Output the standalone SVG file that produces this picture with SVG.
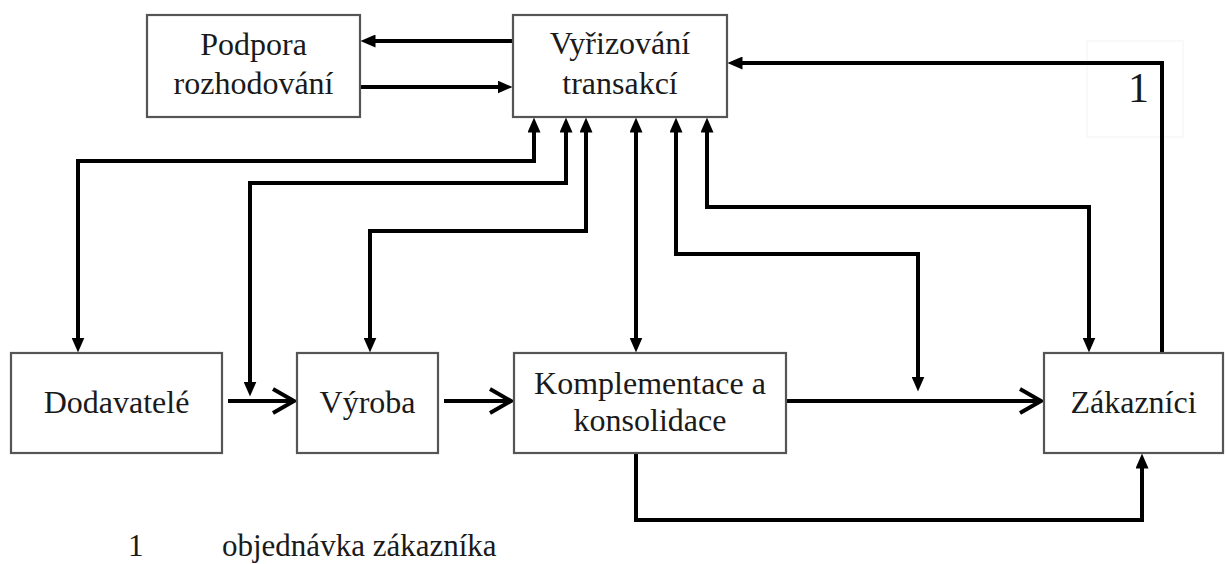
<svg xmlns="http://www.w3.org/2000/svg" width="1226" height="564" viewBox="0 0 1226 564">
  <style>
    .box { fill: #ffffff; stroke: #555555; stroke-width: 2.2; }
    .lbl { font-family: "Liberation Serif", "Times New Roman", serif; font-size: 32px; fill: #1a1a1a; text-anchor: middle; }
    .note { font-family: "Liberation Serif", "Times New Roman", serif; font-size: 31px; fill: #1a1a1a; }
    .wire { fill: none; stroke: #000000; stroke-width: 4; stroke-linejoin: miter; stroke-linecap: butt; }
  </style>
  <defs>
    <!-- solid triangular head; base sits on the path end, tip points onward -->
    <marker id="tri" viewBox="0 0 15 13" markerWidth="15" markerHeight="13" refX="0.5" refY="6.5" orient="auto-start-reverse" markerUnits="userSpaceOnUse">
      <path d="M0,0 L15,6.5 L0,13 Z" fill="#000000"/>
    </marker>
    <!-- open V head for the main material flow -->
    <marker id="vee" viewBox="-26 -15 30 30" markerWidth="30" markerHeight="30" refX="0" refY="0" orient="auto" markerUnits="userSpaceOnUse">
      <polyline points="-21,-12 0,0 -21,12" fill="none" stroke="#000000" stroke-width="4"/>
    </marker>
  </defs>

  <!-- light frame around the flow number -->
  <rect x="1087" y="41" width="96" height="96" fill="none" stroke="#f3f3f3" stroke-width="1"/>

  <g id="connectors">
    <!-- between decision support and transaction processing -->
    <path class="wire" d="M513,41 H375" marker-end="url(#tri)"/>
    <path class="wire" d="M360,87 H498" marker-end="url(#tri)"/>
    <!-- customer order back to transaction processing -->
    <path class="wire" d="M1162,353 V63 H742" marker-end="url(#tri)"/>
    <!-- two-way links from transaction processing -->
    <path class="wire" d="M534,132 V161 H78 V338" marker-start="url(#tri)" marker-end="url(#tri)"/>
    <path class="wire" d="M566,132 V183 H250 V382" marker-start="url(#tri)" marker-end="url(#tri)"/>
    <path class="wire" d="M586,132 V231 H370 V338" marker-start="url(#tri)" marker-end="url(#tri)"/>
    <path class="wire" d="M636,132 V338" marker-start="url(#tri)" marker-end="url(#tri)"/>
    <path class="wire" d="M676,132 V254 H918 V377" marker-start="url(#tri)" marker-end="url(#tri)"/>
    <path class="wire" d="M707,132 V207 H1089 V338" marker-start="url(#tri)" marker-end="url(#tri)"/>
    <!-- main flow -->
    <path class="wire" d="M228,401 H294" marker-end="url(#vee)"/>
    <path class="wire" d="M444,401 H511" marker-end="url(#vee)"/>
    <path class="wire" d="M786,401 H1041" marker-end="url(#vee)"/>
    <!-- direct delivery below -->
    <path class="wire" d="M636,453 V520 H1142 V468" marker-end="url(#tri)"/>
  </g>

  <g id="podpora">
    <rect class="box" x="147" y="15" width="213" height="102"/>
    <text class="lbl" x="253.5" y="55">Podpora</text>
    <text class="lbl" x="253.5" y="94">rozhodování</text>
  </g>

  <g id="vyrizovani">
    <rect class="box" x="513" y="15" width="214" height="102"/>
    <text class="lbl" x="620" y="54">Vyřizování</text>
    <text class="lbl" x="620" y="94">transakcí</text>
  </g>

  <g id="dodavatele">
    <rect class="box" x="11" y="353" width="211" height="100"/>
    <text class="lbl" x="116.5" y="413">Dodavatelé</text>
  </g>

  <g id="vyroba">
    <rect class="box" x="297" y="353" width="141" height="100"/>
    <text class="lbl" x="367.5" y="413">Výroba</text>
  </g>

  <g id="komplementace">
    <rect class="box" x="514" y="353" width="272" height="100"/>
    <text class="lbl" x="650" y="394">Komplementace a</text>
    <text class="lbl" x="650" y="431">konsolidace</text>
  </g>

  <g id="zakaznici">
    <rect class="box" x="1044" y="353" width="179" height="100"/>
    <text class="lbl" x="1133.5" y="413">Zákazníci</text>
  </g>

  <g id="labels">
    <text class="note" x="1128" y="102" style="font-size:42px">1</text>
    <text class="note" x="128" y="556">1</text>
    <text class="note" x="222" y="556">objednávka zákazníka</text>
  </g>
</svg>
